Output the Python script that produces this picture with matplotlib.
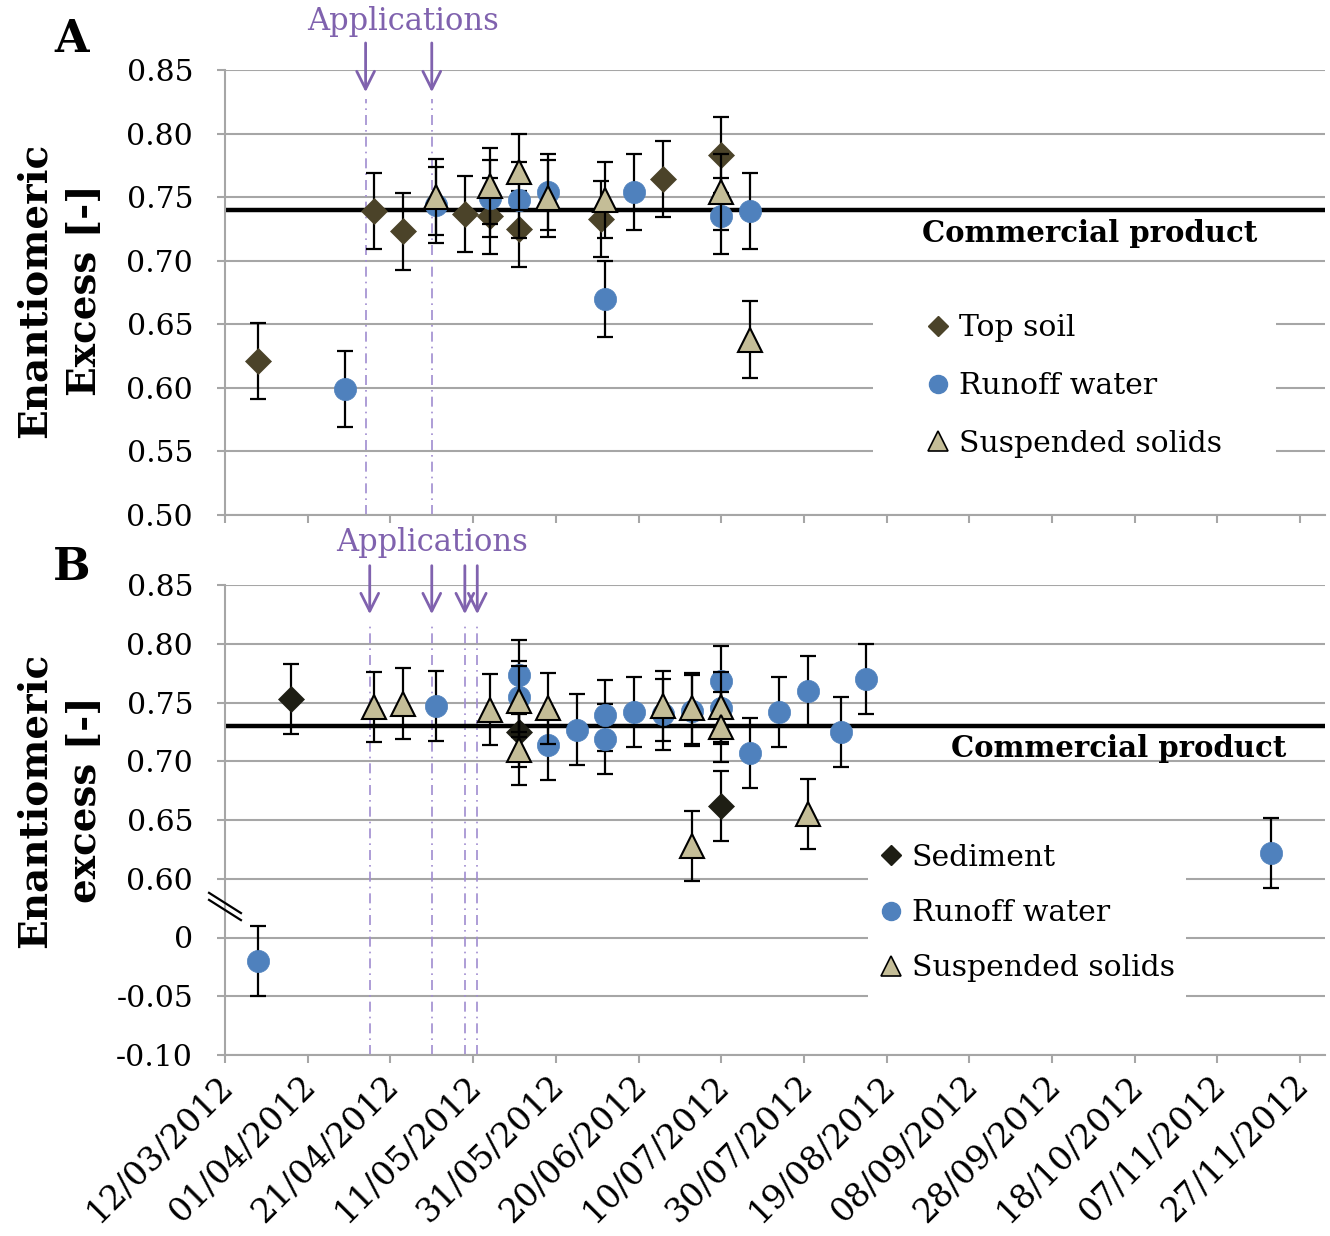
import matplotlib
matplotlib.use('Agg')
import matplotlib.pyplot as plt
import matplotlib.dates as mdates
import matplotlib.transforms as mtransforms
from matplotlib.lines import Line2D
from matplotlib.patches import Rectangle
import pandas as pd

plt.rcParams['font.family'] = ['DejaVu Serif']

# ---- panel A data ----
soilA_dates = ['20/03/2012', '17/04/2012', '24/04/2012', '09/05/2012', '15/05/2012',
               '22/05/2012', '11/06/2012', '26/06/2012', '10/07/2012']
soilA_ee = [0.621, 0.739, 0.723, 0.737, 0.735, 0.725, 0.733, 0.764, 0.783]

runoffA_dates = ['10/04/2012', '02/05/2012', '15/05/2012', '22/05/2012', '29/05/2012',
                 '12/06/2012', '19/06/2012', '10/07/2012', '17/07/2012']
runoffA_ee = [0.599, 0.744, 0.749, 0.748, 0.754, 0.670, 0.754, 0.735, 0.739]

ssA_dates = ['02/05/2012', '15/05/2012', '22/05/2012', '29/05/2012', '12/06/2012',
             '10/07/2012', '17/07/2012']
ssA_ee = [0.750, 0.759, 0.770, 0.749, 0.748, 0.754, 0.638]

appsA = ['15/04/2012', '01/05/2012']
commercialA = 0.74

# ---- panel B data ----
sedB_dates = ['28/03/2012', '22/05/2012', '10/07/2012']
sedB_ee = [0.753, 0.725, 0.662]

runoffB_dates = ['20/03/2012', '02/05/2012', '22/05/2012', '22/05/2012', '29/05/2012',
                 '05/06/2012', '12/06/2012', '12/06/2012', '19/06/2012', '26/06/2012',
                 '03/07/2012', '10/07/2012', '10/07/2012', '17/07/2012', '24/07/2012',
                 '31/07/2012', '08/08/2012', '14/08/2012', '20/11/2012']
runoffB_ee = [-0.020, 0.747, 0.773, 0.755, 0.714, 0.727, 0.739, 0.719, 0.742, 0.740,
              0.743, 0.768, 0.745, 0.707, 0.742, 0.760, 0.725, 0.770, 0.622]

ssB_dates = ['17/04/2012', '24/04/2012', '15/05/2012', '22/05/2012', '22/05/2012',
             '29/05/2012', '26/06/2012', '03/07/2012', '03/07/2012', '10/07/2012',
             '10/07/2012', '31/07/2012']
ssB_ee = [0.746, 0.749, 0.744, 0.751, 0.710, 0.745, 0.747, 0.745, 0.628, 0.746,
          0.729, 0.655]

appsB = ['16/04/2012', '01/05/2012', '09/05/2012', '12/05/2012']
commercialB = 0.73

err = 0.03

xtick_labels = ['12/03/2012', '01/04/2012', '21/04/2012', '11/05/2012', '31/05/2012',
                '20/06/2012', '10/07/2012', '30/07/2012', '19/08/2012', '08/09/2012',
                '28/09/2012', '18/10/2012', '07/11/2012', '27/11/2012']
ytickA = [0.50, 0.55, 0.60, 0.65, 0.70, 0.75, 0.80, 0.85]
ytickB = [-0.10, -0.05, 0, 0.60, 0.65, 0.70, 0.75, 0.80, 0.85]
ytickB_labels = ['-0.10', '-0.05', '0', '0.60', '0.65', '0.70', '0.75', '0.80', '0.85']


def dt(lst):
    return mdates.date2num(pd.to_datetime(lst, format='%d/%m/%Y'))


def brk(v):
    # broken axis: 0.60..0.85 sit right above 0
    return [x - 0.55 if x > 0.3 else x for x in v]


c_soil = '#4B4329'
c_sed = '#1E1E14'
c_run = '#4F81BD'
c_ss = '#C4BD97'
c_purple = '#8062AE'
c_app = '#A08CD0'
c_grid = '#A6A6A6'

fig = plt.figure(figsize=(13.3, 12.36), dpi=100)
axA = fig.add_axes([225 / 1330, 1 - 515 / 1236, 1100 / 1330, 445 / 1236])
axB = fig.add_axes([225 / 1330, 1 - 1055 / 1236, 1100 / 1330, 470 / 1236])

xmin, xmax = dt(['12/03/2012', '03/12/2012'])
xt = dt(xtick_labels)


def style(ax, yt, ylab):
    ax.set_xlim(xmin, xmax)
    for s in ['top', 'right']:
        ax.spines[s].set_visible(False)
    for s in ['left', 'bottom']:
        ax.spines[s].set_color(c_grid)
        ax.spines[s].set_linewidth(1.5)
    ax.set_yticks(yt)
    ax.set_yticklabels(ylab, fontsize=21.5)
    ax.set_xticks(xt)
    ax.tick_params(axis='both', color=c_grid, width=1.5, length=6)
    ax.tick_params(axis='y', pad=17)
    ax.grid(axis='y', color=c_grid, lw=1.5, zorder=0)
    ax.set_axisbelow(True)


def series(ax, d, v, marker, face, ms, edge, z):
    ax.errorbar(dt(d), v, yerr=err, fmt='none', ecolor='black', elinewidth=1.6,
                capsize=6, capthick=1.6, zorder=z)
    ax.plot(dt(d), v, ls='none', marker=marker, ms=ms, mfc=face, mec=edge,
            mew=1.5 if edge == 'black' else 0.5, zorder=z + 0.5)


# ---- panel A ----
axA.set_ylim(0.50, 0.85)
style(axA, ytickA, ['%.2f' % t for t in ytickA])
axA.set_xticklabels([])
axA.axhline(commercialA, color='black', lw=3.2, zorder=2)
series(axA, soilA_dates, soilA_ee, 'D', c_soil, 13, c_soil, 3)
series(axA, runoffA_dates, runoffA_ee, 'o', c_run, 16, c_run, 4)
series(axA, ssA_dates, ssA_ee, '^', c_ss, 17, 'black', 5)
axA.text(dt(['07/10/2012'])[0], commercialA - 0.007, 'Commercial product',
         fontsize=21, fontweight='bold', ha='center', va='top', zorder=6)
axA.add_patch(Rectangle((0.589, 0.101), 0.366, 0.382, transform=axA.transAxes,
                        facecolor='white', edgecolor='none', zorder=1))

# ---- panel B ----
axB.set_ylim(-0.10, 0.30)
style(axB, brk(ytickB), ytickB_labels)
axB.set_xticklabels(xtick_labels, rotation=45, ha='right', rotation_mode='anchor',
                    fontsize=24)
axB.tick_params(axis='x', pad=4)
shift = mtransforms.ScaledTranslation(-8 / 100, 0, fig.dpi_scale_trans)
for lbl in axB.get_xticklabels():
    lbl.set_transform(lbl.get_transform() + shift)
axB.axhline(brk([commercialB])[0], color='black', lw=3.2, zorder=2)
series(axB, sedB_dates, brk(sedB_ee), 'D', c_sed, 13, c_sed, 3)
series(axB, runoffB_dates, brk(runoffB_ee), 'o', c_run, 16, c_run, 4)
series(axB, ssB_dates, brk(ssB_ee), '^', c_ss, 17, 'black', 5)
axB.text(dt(['14/10/2012'])[0], brk([commercialB])[0] - 0.007, 'Commercial product',
         fontsize=21, fontweight='bold', ha='center', va='top', zorder=6)
axB.add_patch(Rectangle((0.5845, 0.096), 0.289, 0.372, transform=axB.transAxes,
                        facecolor='white', edgecolor='none', zorder=1))

# axis break marks
for off in [0, 0.015]:
    axB.plot([-0.0145, 0.0145], [0.345 - off, 0.302 - off], transform=axB.transAxes,
             color='black', lw=1.6, clip_on=False, zorder=6)

# application arrows and lines
for ax, apps, tip, top, tx, ty in [(axA, appsA, 0.944, 1.067, '24/04/2012', 1.108),
                                    (axB, appsB, 0.932, 1.047, '01/05/2012', 1.091)]:
    tr = mtransforms.blended_transform_factory(ax.transData, ax.transAxes)
    for a in dt(apps):
        ax.plot([a, a], [0, tip - 0.01], transform=tr, color=c_app, lw=1.2,
                ls=(0, (6, 3, 1, 3)), zorder=1.2, clip_on=False)
        ax.annotate('', xy=(a, tip), xytext=(a, top), xycoords=tr, textcoords=tr,
                    arrowprops=dict(arrowstyle='->', color=c_purple, lw=2,
                                    mutation_scale=32))
    ax.text(dt([tx])[0], ty, 'Applications', transform=tr, color=c_purple,
            fontsize=22, ha='center', va='center')

# legends
hA = [Line2D([], [], ls='none', marker='D', ms=10, mfc=c_soil, mec=c_soil),
      Line2D([], [], ls='none', marker='o', ms=13, mfc=c_run, mec=c_run),
      Line2D([], [], ls='none', marker='^', ms=14, mfc=c_ss, mec='black', mew=1.2)]
legA = axA.legend(hA, ['Top soil', 'Runoff water', 'Suspended solids'],
                  loc='center left', bbox_to_anchor=(926 / 1330, 1 - 386 / 1236),
                  bbox_transform=fig.transFigure, fontsize=21.5, frameon=False,
                  borderpad=0, handlelength=0.8, handletextpad=0.3,
                  labelspacing=0.99, borderaxespad=0)
legA.set_zorder(7)
hB = [Line2D([], [], ls='none', marker='D', ms=10, mfc=c_sed, mec=c_sed),
      Line2D([], [], ls='none', marker='o', ms=13, mfc=c_run, mec=c_run),
      Line2D([], [], ls='none', marker='^', ms=14, mfc=c_ss, mec='black', mew=1.2)]
legB = axB.legend(hB, ['Sediment', 'Runoff water', 'Suspended solids'],
                  loc='center left', bbox_to_anchor=(879 / 1330, 1 - 913 / 1236),
                  bbox_transform=fig.transFigure, fontsize=21.5, frameon=False,
                  borderpad=0, handlelength=0.8, handletextpad=0.3,
                  labelspacing=0.92, borderaxespad=0)
legB.set_zorder(7)

# panel letters and y labels
fig.text(72 / 1330, 1 - 40 / 1236, 'A', fontsize=32, fontweight='bold', ha='center', va='center')
fig.text(72 / 1330, 1 - 567 / 1236, 'B', fontsize=32, fontweight='bold', ha='center', va='center')
fig.text(60 / 1330, 1 - 290 / 1236, 'Enantiomeric\nExcess [-]', fontsize=28,
         fontweight='bold', rotation=90, ha='center', va='center', linespacing=1.4)
fig.text(60 / 1330, 1 - 800 / 1236, 'Enantiomeric\nexcess [-]', fontsize=28,
         fontweight='bold', rotation=90, ha='center', va='center', linespacing=1.4)

fig.savefig('out.png', dpi=100)
